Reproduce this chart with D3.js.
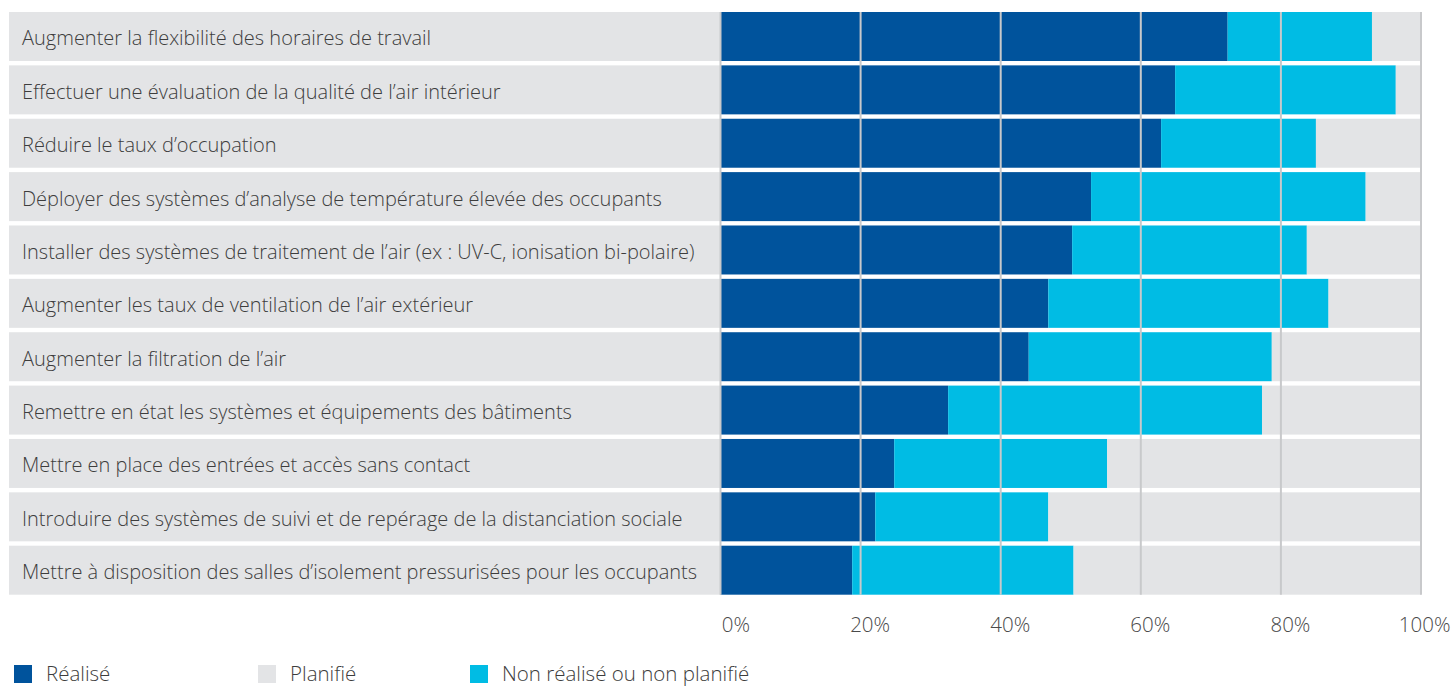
<!DOCTYPE html>
<html><head><meta charset="utf-8">
<script src="https://cdn.jsdelivr.net/npm/d3@7"></script>
<style>body{margin:0;background:#fff;} svg{display:block;font-family:"Open Sans",sans-serif;}</style>
</head><body><svg id="c" width="1453" height="687"></svg>
<script>
const categories = [
  "Augmenter la flexibilité des horaires de travail",
  "Effectuer une évaluation de la qualité de l’air intérieur",
  "Réduire le taux d’occupation",
  "Déployer des systèmes d’analyse de température élevée des occupants",
  "Installer des systèmes de traitement de l’air (ex : UV-C, ionisation bi-polaire)",
  "Augmenter les taux de ventilation de l’air extérieur",
  "Augmenter la filtration de l’air",
  "Remettre en état les systèmes et équipements des bâtiments",
  "Mettre en place des entrées et accès sans contact",
  "Introduire des systèmes de suivi et de repérage de la distanciation sociale",
  "Mettre à disposition des salles d’isolement pressurisées pour les occupants"
];
const realise    = [72.4, 64.9, 62.9, 52.9, 50.2, 46.8, 44.0, 32.5, 24.8, 22.1, 18.8];
const nonRealise = [20.6, 31.5, 22.1, 39.2, 33.5, 40.0, 34.7, 44.8, 30.4, 24.7, 31.6];
const planifie   = categories.map((c,i) => +(100 - realise[i] - nonRealise[i]).toFixed(1));
const tickValues = [0, 20, 40, 60, 80, 100];
const seriesNames = ["Réalisé", "Planifié", "Non réalisé ou non planifié"];
const colors = {"Réalisé":"#00539C", "Planifié":"#E3E4E6", "Non réalisé ou non planifié":"#00BCE4"};

const svg = d3.select("#c");
const x = d3.scaleLinear().domain([0,100]).range([720.5, 1421]);
const y = d3.scaleBand().domain(categories).range([12, 594.7]).paddingInner(0.082).paddingOuter(0);

const rows = categories.map((c,i)=>({cat:c, "Réalisé":realise[i], "Non réalisé ou non planifié":nonRealise[i], "Planifié":planifie[i]}));
const stack = d3.stack().keys(["Réalisé","Non réalisé ou non planifié","Planifié"])(rows);

// label backgrounds
svg.append("g").selectAll("rect").data(categories).join("rect")
  .attr("x", 9).attr("y", d=>y(d)).attr("width", x(0)-9).attr("height", y.bandwidth())
  .attr("fill", "#E3E4E6");

svg.append("g").selectAll("g").data(stack).join("g")
  .attr("fill", d=>colors[d.key])
  .selectAll("rect").data(d=>d).join("rect")
  .attr("x", d=>x(d[0])).attr("y", d=>y(d.data.cat))
  .attr("width", d=>x(d[1])-x(d[0])).attr("height", y.bandwidth());

// gridlines
svg.append("g").selectAll("line").data(tickValues).join("line")
  .attr("x1", d=>x(d)).attr("x2", d=>x(d)).attr("y1", 12).attr("y2", 594.7)
  .attr("stroke", "#C8C9CB").attr("stroke-width", 2);

// labels
svg.append("g").selectAll("text").data(categories).join("text")
  .attr("x", 22).attr("y", d=>y(d)+y.bandwidth()/2+9)
  .attr("font-size", 20).attr("font-weight", 300).attr("fill", "#3d3d3d")
  .text(d=>d);

// axis
const axis = d3.axisBottom(x).tickValues(tickValues).tickFormat(d=>d+"%").tickSize(0);
const ax = svg.append("g").attr("transform","translate(0,632)").call(axis);
ax.select(".domain").remove();
ax.selectAll("text").attr("font-family","Open Sans, sans-serif").attr("font-size",20.5).attr("font-weight",300)
  .attr("fill","#4a4a4a").attr("text-anchor","end").attr("dx", 29).attr("dy", 0).attr("y", 0);

// legend
const legX = [14, 258, 470];
const lg = svg.append("g").selectAll("g").data(seriesNames).join("g")
  .attr("transform",(d,i)=>`translate(${legX[i]},665)`);
lg.append("rect").attr("width",18).attr("height",18).attr("fill",d=>colors[d]);
lg.append("text").attr("x",32).attr("y",16)
  .attr("font-size",20.5).attr("font-weight",300).attr("fill","#3d3d3d").text(d=>d);
</script></body></html>
